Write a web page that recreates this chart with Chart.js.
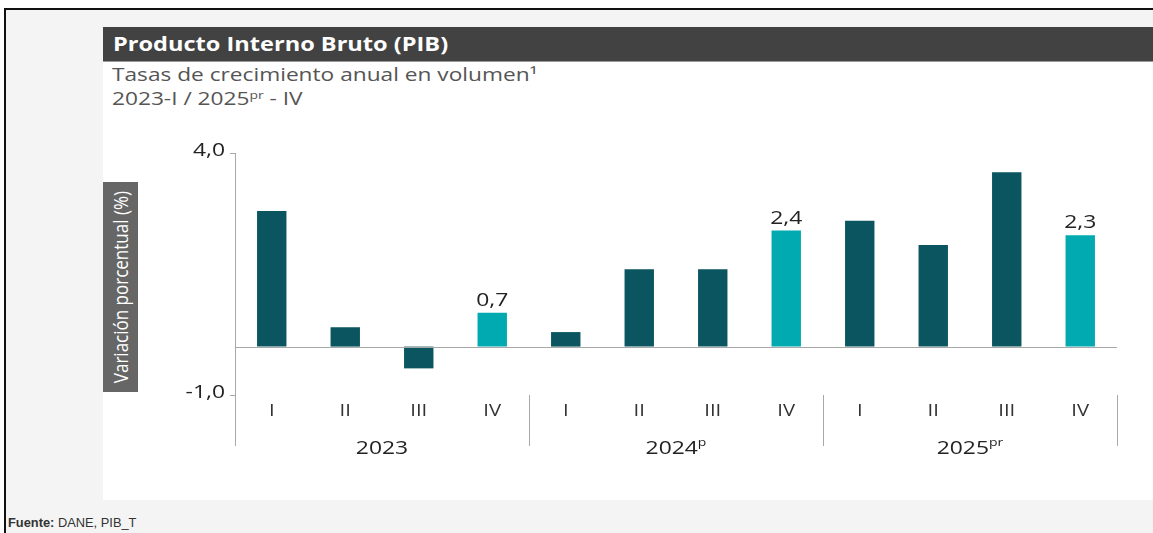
<!DOCTYPE html>
<html lang="es">
<head>
<meta charset="utf-8">
<title>Producto Interno Bruto (PIB)</title>
<script src="https://cdn.jsdelivr.net/npm/chart.js@4.4.1/dist/chart.umd.min.js"></script>
<style>
  html, body { margin: 0; padding: 0; }
  body {
    width: 1153px; height: 533px; position: relative; overflow: hidden;
    background: #fff; font-family: 'Open Sans', sans-serif;
  }
  .frame {
    position: absolute; left: 4px; top: 8px; right: 0; bottom: 0;
    border-top: 2px solid #111; border-left: 2px solid #111;
    background: #f4f4f4;
  }
  .panel {
    position: absolute; left: 103px; top: 27px; width: 1050px; height: 473px;
    background: #fff;
  }
  .title-bar {
    position: absolute; left: 103px; top: 27px; width: 1050px; height: 34px;
    background: #424242; border-bottom: 1px solid #9a9a9a;
  }
  .title-bar span {
    position: absolute; left: 10px; top: 4px; transform: scaleX(1.24); transform-origin: left center;
    color: #fff; font-weight: 700; font-size: 19px; line-height: 26px; white-space: nowrap;
  }
  .subtitle {
    position: absolute; left: 112px; top: 62px; transform: scaleX(1.26); transform-origin: left top;
    color: #555; font-size: 18px; line-height: 24px; white-space: nowrap;
  }
  .subtitle sup { font-size: 11px; vertical-align: 6px; line-height: 0; }
  .ytitle {
    position: absolute; left: 103px; top: 182px; width: 35px; height: 210px;
    background: #666; color: #fff; font-size: 17px;
    display: flex; align-items: center; justify-content: center;
  }
  .ytitle span { writing-mode: vertical-rl; transform: rotate(180deg) scaleX(1.15); white-space: nowrap; }
  .source {
    position: absolute; left: 8px; top: 516px; transform: scaleX(1.07); transform-origin: left top;
    font-family: 'Liberation Sans', Arial, sans-serif; font-size: 12px; color: #333; white-space: nowrap;
  }
  #wrap { position: absolute; left: 130px; top: 130px; width: 1023px; height: 340px; }
</style>
</head>
<body>
<div class="frame"></div>
<div class="panel"></div>
<div class="title-bar"><span>Producto Interno Bruto (PIB)</span></div>
<div class="subtitle">Tasas de crecimiento anual en volumen¹<br>2023-I / 2025<sup>pr</sup> - IV</div>
<div class="ytitle"><span>Variación porcentual (%)</span></div>
<div id="wrap"><canvas id="pib-chart" width="1023" height="340"></canvas></div>
<div class="source"><b>Fuente:</b> DANE, PIB_T</div>

<script>
const quarters = ['I', 'II', 'III', 'IV', 'I', 'II', 'III', 'IV', 'I', 'II', 'III', 'IV'];
const growth = [2.8, 0.4, -0.45, 0.7, 0.3, 1.6, 1.6, 2.4, 2.6, 2.1, 3.6, 2.3];
const years = ['2023', '2024', '2025'];
const yearMarks = ['', 'p', 'pr'];
const yTicks = [-1, 4];

const darkTeal = '#0a5560';
const lightTeal = '#00aab0';
const axisGrey = '#a8a8a8';
const STRETCH = 1.27; // the source lettering is set wide

const fmt = (v) => v.toFixed(1).replace('.', ',');

// every fourth quarter is highlighted and labelled
const barColors = growth.map((v, i) => (i % 4 === 3 ? lightTeal : darkTeal));

function wideText(ctx, text, x, y, align) {
  ctx.save();
  ctx.translate(x, y);
  ctx.scale(STRETCH, 1);
  ctx.textAlign = align;
  ctx.fillText(text, 0, 0);
  ctx.restore();
}

const decorations = {
  id: 'decorations',
  afterDatasetsDraw(chart) {
    const { ctx, chartArea, scales } = chart;
    const x = scales.x;
    const y = scales.y;
    const zero = y.getPixelForValue(0);
    const bottom = chartArea.bottom + 51;
    const half = (x.getPixelForValue(1) - x.getPixelForValue(0)) / 2;

    ctx.save();
    ctx.strokeStyle = axisGrey;
    ctx.lineWidth = 1;

    // zero line
    ctx.beginPath();
    ctx.moveTo(chartArea.left, Math.round(zero) + 0.5);
    ctx.lineTo(chartArea.right, Math.round(zero) + 0.5);
    ctx.stroke();

    // y axis line down through the category area
    const ax = Math.round(chartArea.left) + 0.5;
    ctx.beginPath();
    ctx.moveTo(ax, chartArea.top);
    ctx.lineTo(ax, bottom);
    ctx.stroke();

    ctx.fillStyle = '#222';
    ctx.textBaseline = 'middle';

    // y tick labels
    ctx.font = '18px "Open Sans"';
    y.ticks.forEach((t) => {
      wideText(ctx, fmt(t.value), chartArea.left - 10, y.getPixelForValue(t.value) - 2, 'right');
    });

    // quarter labels
    ctx.fillStyle = '#333';
    ctx.font = '16px "Open Sans"';
    quarters.forEach((q, i) => {
      wideText(ctx, q, x.getPixelForValue(i), chartArea.bottom + 16, 'center');
    });

    // group separators + year labels
    ctx.fillStyle = '#222';
    years.forEach((yr, g) => {
      const last = g * 4 + 3;
      const sx = Math.round(x.getPixelForValue(last) + half) + 0.5;
      ctx.beginPath();
      ctx.moveTo(sx, chartArea.bottom);
      ctx.lineTo(sx, bottom);
      ctx.stroke();

      const cx = (x.getPixelForValue(g * 4) + x.getPixelForValue(last)) / 2;
      ctx.font = '18px "Open Sans"';
      const w = ctx.measureText(yr).width * STRETCH;
      ctx.font = '11px "Open Sans"';
      const ws = yearMarks[g] ? ctx.measureText(yearMarks[g]).width * STRETCH : 0;
      const startX = cx - (w + ws) / 2;
      ctx.font = '18px "Open Sans"';
      wideText(ctx, yr, startX, chartArea.bottom + 54, 'left');
      if (yearMarks[g]) {
        ctx.font = '11px "Open Sans"';
        wideText(ctx, yearMarks[g], startX + w, chartArea.bottom + 48, 'left');
      }
    });

    // value labels for the fourth quarters
    const meta = chart.getDatasetMeta(0);
    ctx.font = '18px "Open Sans"';
    ctx.fillStyle = '#222';
    ctx.textBaseline = 'bottom';
    meta.data.forEach((bar, i) => {
      if (i % 4 !== 3) return;
      wideText(ctx, fmt(growth[i]), bar.x, bar.y - 3, 'center');
    });
    ctx.restore();
  },
};

new Chart(document.getElementById('pib-chart'), {
  type: 'bar',
  data: {
    labels: quarters,
    datasets: [
      {
        label: 'PIB',
        data: growth,
        backgroundColor: barColors,
        borderWidth: 0,
        categoryPercentage: 1,
        barPercentage: 0.4,
      },
    ],
  },
  options: {
    responsive: false,
    animation: false,
    devicePixelRatio: 1,
    layout: { padding: { top: 23, right: 36, bottom: 0, left: 0 } },
    plugins: {
      legend: { display: false },
      tooltip: { enabled: false },
    },
    scales: {
      x: {
        grid: { display: false },
        border: { display: false },
        ticks: { display: false },
        afterFit(scale) { scale.height = 75; },
      },
      y: {
        min: -1,
        max: 4,
        afterBuildTicks(scale) { scale.ticks = yTicks.map((v) => ({ value: v })); },
        afterFit(scale) { scale.width = 105; },
        grid: { drawOnChartArea: false, color: axisGrey, tickLength: 5 },
        border: { display: false },
        ticks: { display: false },
      },
    },
  },
  plugins: [decorations],
});
</script>
</body>
</html>
